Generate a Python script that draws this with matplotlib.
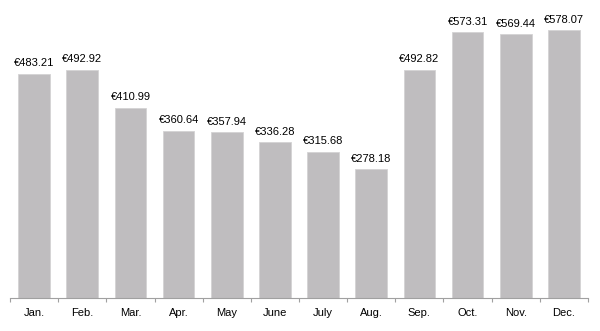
import matplotlib.pyplot as plt

months = ['Jan.', 'Feb.', 'Mar.', 'Apr.', 'May', 'June', 'July', 'Aug.',
          'Sep.', 'Oct.', 'Nov.', 'Dec.']
values = [483.21, 492.92, 410.99, 360.64, 357.94, 336.28, 315.68, 278.18,
          492.82, 573.31, 569.44, 578.07]

plt.rcParams['font.family'] = ['Liberation Sans', 'DejaVu Sans']

fig = plt.figure(figsize=(6, 3.31), dpi=100)
ax = fig.add_axes([10 / 600, 33 / 331, 578 / 600, 298 / 331])

x = range(len(months))
bars = ax.bar(x, values, width=0.66, color='#bfbdbf', edgecolor='#d4d3d4', linewidth=0.6)

for xi, v in zip(x, values):
    ax.annotate(f'€{v:.2f}', (xi, v), xytext=(0, 4), textcoords='offset points',
                ha='center', va='bottom', fontsize=8, color='black')

ax.set_xlim(-0.5, len(months) - 0.5)
ax.set_ylim(0, 643)
ax.set_xticks(list(x))
ax.set_xticklabels(months, fontsize=8)
ax.tick_params(axis='x', length=0, pad=7)
ax.set_xticks([i - 0.5 for i in range(len(months) + 1)], minor=True)
ax.tick_params(axis='x', which='minor', length=3, color='#a0a0a0', width=0.8)
ax.set_yticks([])
for s in ['top', 'right', 'left']:
    ax.spines[s].set_visible(False)
ax.spines['bottom'].set_color('#a0a0a0')
ax.spines['bottom'].set_linewidth(0.8)

plt.savefig('out.png', dpi=100)
